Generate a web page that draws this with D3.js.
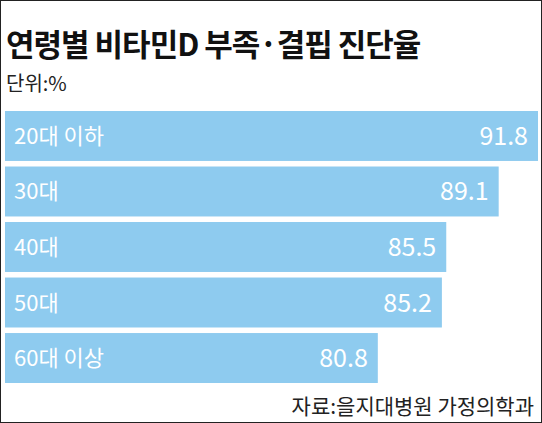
<!DOCTYPE html>
<html><head><meta charset="utf-8">
<script src="https://cdn.jsdelivr.net/npm/d3@7"></script>
<style>body{margin:0;background:#fff}svg{display:block}text{font-family:"Noto Sans CJK KR","Noto Sans",sans-serif}</style>
</head><body>
<script>
// values
const groups = ["20대 이하", "30대", "40대", "50대", "60대 이상"];
const rates = [91.8, 89.1, 85.5, 85.2, 80.8];

const W = 542, H = 423;
const svg = d3.select("body").append("svg").attr("width", W).attr("height", H);

svg.append("rect").attr("x", 0.5).attr("y", 0.5).attr("width", W - 1).attr("height", H - 1)
    .attr("fill", "#fff").attr("stroke", "#222");

svg.append("text").attr("x", 6).attr("y", 56).attr("font-size", 31).attr("font-weight", "bold")
    .attr("fill", "#111").attr("letter-spacing", -1).text("연령별 비타민D 부족·결핍 진단율");
svg.append("text").attr("x", 6).attr("y", 91).attr("font-size", 20).attr("fill", "#222").text("단위:%");

const x = d3.scaleLinear().domain([55.2, 91.8]).range([5, 538]);
const y = d3.scaleBand().domain(groups).range([111, 383]).paddingInner(0.1);

const row = svg.selectAll("g.bar").data(groups).join("g").attr("class", "bar");
row.append("rect").attr("x", 5).attr("y", d => y(d))
    .attr("width", (d, i) => x(rates[i]) - 5).attr("height", y.bandwidth()).attr("fill", "#8ecbef");
row.append("text").attr("x", 14).attr("y", d => y(d) + y.bandwidth() / 2 + 8)
    .attr("font-size", 22).attr("fill", "#fff").text(d => d);
row.append("text").attr("x", (d, i) => x(rates[i]) - 10).attr("y", d => y(d) + y.bandwidth() / 2 + 9)
    .attr("text-anchor", "end").attr("font-size", 25).attr("fill", "#fff")
    .text((d, i) => rates[i].toFixed(1));

svg.append("text").attr("x", 534).attr("y", 414).attr("text-anchor", "end").attr("font-size", 21)
    .attr("fill", "#222").text("자료:을지대병원 가정의학과");
</script>
</body></html>
